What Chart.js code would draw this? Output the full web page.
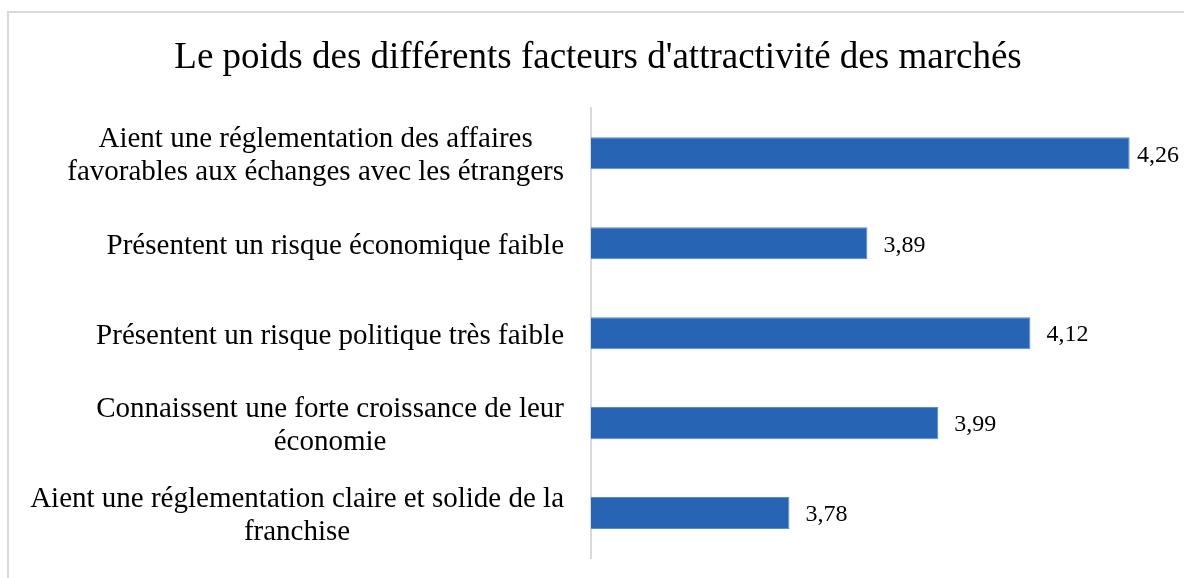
<!DOCTYPE html>
<html>
<head>
<meta charset="utf-8">
<script src="https://cdn.jsdelivr.net/npm/chart.js@4/dist/chart.umd.min.js"></script>
<style>
  html, body { margin: 0; padding: 0; background: #ffffff; overflow: hidden; }
  #wrap { position: relative; width: 1184px; height: 578px; }
  #frame { position: absolute; left: 7px; top: 11px; width: 1300px; height: 700px;
           border-left: 2px solid #d9d9d9; border-top: 2px solid #d9d9d9; box-sizing: border-box; }
  canvas { position: absolute; left: 0; top: 0; }
</style>
</head>
<body>
<div id="wrap">
  <div id="frame"></div>
  <canvas id="c" width="1184" height="578"></canvas>
</div>
<script>
const titleText = "Le poids des différents facteurs d'attractivité des marchés";
const categories = [
  ["Aient une réglementation des affaires", "favorables aux échanges avec les étrangers"],
  ["Présentent un risque économique faible"],
  ["Présentent un risque politique très faible"],
  ["Connaissent une forte croissance de leur", "économie"],
  ["Aient une réglementation claire et solide de la", "franchise"]
];
const values = [4.26, 3.89, 4.12, 3.99, 3.78];
const axisMin = 3.5;
const axisMax = 4.3;

const SERIF = "'Liberation Serif', 'Times New Roman', serif";

const categoryLabelPlugin = {
  id: 'categoryLabels',
  afterDraw(chart) {
    const ctx = chart.ctx;
    const y = chart.scales.y;
    const size = 29, lh = 33;
    const rightEdge = chart.chartArea.left - 27;
    ctx.save();
    ctx.font = size + 'px ' + SERIF;
    ctx.fillStyle = '#000000';
    ctx.textBaseline = 'middle';
    ctx.textAlign = 'center';
    categories.forEach((lines, i) => {
      const cy = y.getPixelForTick(i) + 3;
      const w = Math.max(...lines.map(l => ctx.measureText(l).width));
      const cx = rightEdge - w / 2;
      const top = cy - (lines.length - 1) * lh / 2;
      lines.forEach((l, k) => ctx.fillText(l, cx, top + k * lh));
    });
    ctx.restore();
  }
};

const valueLabelPlugin = {
  id: 'valueLabels',
  afterDatasetsDraw(chart) {
    const ctx = chart.ctx;
    const meta = chart.getDatasetMeta(0);
    ctx.save();
    ctx.font = '24px ' + SERIF;
    ctx.fillStyle = '#000000';
    ctx.textBaseline = 'middle';
    ctx.textAlign = 'left';
    meta.data.forEach((bar, i) => {
      const txt = values[i].toFixed(2).replace('.', ',');
      const w = ctx.measureText(txt).width;
      let x = bar.x + 16;
      const limit = chart.width - 5;
      if (x + w > limit) x = limit - w;
      ctx.fillText(txt, x, bar.y + 2);
    });
    ctx.restore();
  }
};

new Chart(document.getElementById('c'), {
  type: 'bar',
  data: {
    labels: categories,
    datasets: [{
      data: values,
      backgroundColor: '#2864b4',
      borderColor: '#5a8ad0',
      borderWidth: 1,
      categoryPercentage: 1,
      barPercentage: 0.356
    }]
  },
  options: {
    indexAxis: 'y',
    responsive: false,
    animation: false,
    layout: { padding: { left: 38, right: 26, top: 0, bottom: 20 } },
    plugins: {
      legend: { display: false },
      tooltip: { enabled: false },
      title: {
        display: true,
        text: titleText,
        color: '#000000',
        font: { family: SERIF, size: 37, weight: 'normal' },
        padding: { top: 36, bottom: 28 }
      }
    },
    scales: {
      x: {
        display: false,
        min: axisMin,
        max: axisMax
      },
      y: {
        grid: { display: false },
        border: { display: true, color: '#d9d9d9', width: 2 },
        ticks: { display: false },
        afterFit(scale) { scale.width = 553; }
      }
    }
  },
  plugins: [categoryLabelPlugin, valueLabelPlugin]
});
</script>
</body>
</html>
